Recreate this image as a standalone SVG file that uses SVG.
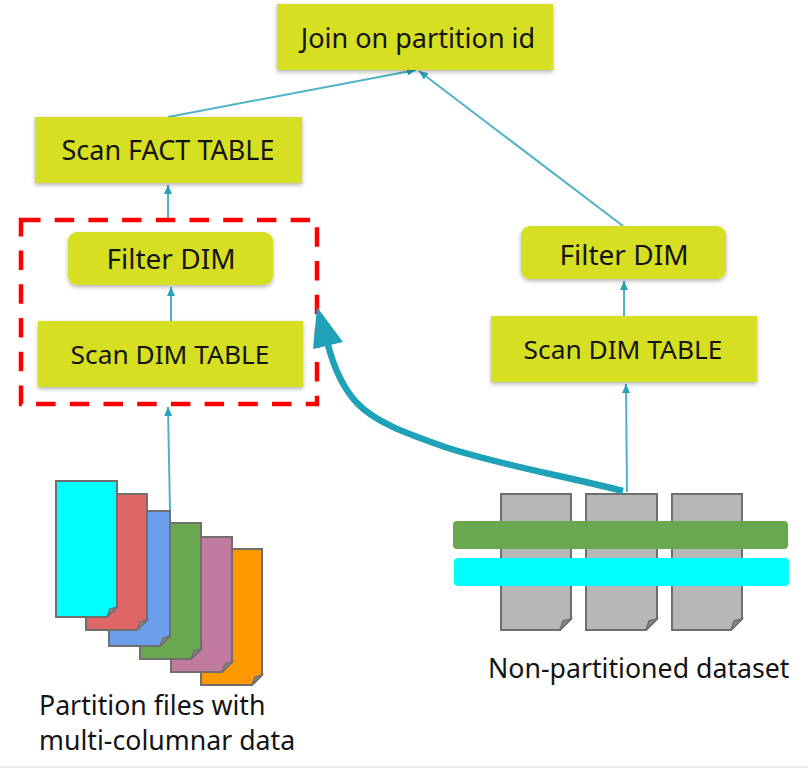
<svg xmlns="http://www.w3.org/2000/svg" width="808" height="768" viewBox="0 0 808 768">
<style>
.box{fill:#d6df22;filter:url(#sh)}
text{font-family:"Noto Sans","Open Sans","Liberation Sans",sans-serif;fill:#141414}
.lbl{font-size:26.3px;text-anchor:middle}
.big{font-size:27px}
.flt{font-size:28px}
.cap{font-size:26.7px}
.doc{stroke:#6f6f6f;stroke-width:2}
.fold{fill:#8a8a8a;stroke:#6f6f6f;stroke-width:1.5}
.c{fill:none;stroke:#4fb3c8;stroke-width:2;marker-end:url(#a)}
</style>
<defs>
<filter id="sh" x="-10%" y="-20%" width="120%" height="140%"><feDropShadow dx="0" dy="2" stdDeviation="2" flood-color="#000" flood-opacity="0.3"/></filter>
<marker id="a" markerUnits="userSpaceOnUse" markerWidth="12" markerHeight="10" refX="9" refY="4" orient="auto"><path d="M0 0L9 4L0 8Z" fill="#28a3ba"/></marker>
</defs>
<rect width="808" height="768" fill="#fff"/>
<path d="M0 767H808" stroke="#d8d8d8" stroke-width="1"/>
<g id="connectors">
<path class="c" d="M168 117L416 70"/>
<path class="c" d="M623 226L419 71"/>
<path class="c" d="M168 219V185"/>
<path class="c" d="M171 321V287"/>
<path class="c" d="M170 511L168 407"/>
<path class="c" d="M624 316V281"/>
<path class="c" d="M627 492L626 384"/>
</g>
<g id="region-filter"><rect x="21" y="220" width="296" height="184" fill="none" stroke="#fe0000" stroke-width="4.5" stroke-dasharray="19.5 14.2"/></g>
<g id="node-join"><rect class="box" x="277" y="4" width="276" height="66"/><text class="lbl big" x="418" y="48">Join on partition id</text></g>
<g id="node-fact"><rect class="box" x="35" y="117" width="267" height="66"/><text class="lbl big" x="168" y="160">Scan FACT TABLE</text></g>
<g id="node-filter-left"><rect class="box" x="68" y="232" width="205" height="53" rx="9"/><text class="lbl flt" x="171" y="269">Filter DIM</text></g>
<g id="node-scan-left"><rect class="box" x="38" y="321" width="265" height="66"/><text class="lbl" x="170" y="364">Scan DIM TABLE</text></g>
<g id="node-filter-right"><rect class="box" x="521" y="226" width="205" height="53" rx="9"/><text class="lbl flt" x="624" y="265">Filter DIM</text></g>
<g id="node-scan-right"><rect class="box" x="491" y="316" width="266" height="66"/><text class="lbl" x="623" y="359">Scan DIM TABLE</text></g>
<g id="files">
<path class="doc" fill="#ff9900" d="M201 549H262V675L252 685H201Z"/><path class="fold" d="M252 685L255 677L262 675Z"/>
<path class="doc" fill="#c27ba0" d="M171 537H232V662L222 672H171Z"/><path class="fold" d="M222 672L225 664L232 662Z"/>
<path class="doc" fill="#6aa84f" d="M140 523H201V649L191 659H140Z"/><path class="fold" d="M191 659L194 651L201 649Z"/>
<path class="doc" fill="#6d9eeb" d="M109 511H170V636L160 646H109Z"/><path class="fold" d="M160 646L163 638L170 636Z"/>
<path class="doc" fill="#e06666" d="M86 494H147V620L137 630H86Z"/><path class="fold" d="M137 630L140 622L147 620Z"/>
<path class="doc" fill="#00ffff" d="M56 481H117V607L107 617H56Z"/><path class="fold" d="M107 617L110 609L117 607Z"/>
<text class="cap" x="39" y="715">Partition files with</text>
<text class="cap" x="39" y="750">multi-columnar data</text>
</g>
<g id="dataset">
<path class="doc" fill="#b7b7b7" d="M501 494H571V619L560 630H501Z"/><path class="fold" d="M560 630L563 621L571 619Z"/>
<path class="doc" fill="#b7b7b7" d="M586 494H657V619L646 630H586Z"/><path class="fold" d="M646 630L649 621L657 619Z"/>
<path class="doc" fill="#b7b7b7" d="M672 494H742V619L731 630H672Z"/><path class="fold" d="M731 630L734 621L742 619Z"/>
<rect x="453" y="521" width="335" height="28" rx="4" fill="#6aa84f"/>
<rect x="454" y="558" width="335" height="28" rx="4" fill="#00ffff"/>
<text class="cap" x="488" y="678">Non-partitioned dataset</text>
</g>
<g id="big-arrow">
<path d="M623 491C560 475 500 465 445 447C405 433 375 422 357 403C342 387 334 368 328 345" fill="none" stroke="#1fa1b8" stroke-width="6.5"/>
<path d="M317 307L343 342L313 349Z" fill="#1fa1b8"/>
</g>
</svg>
